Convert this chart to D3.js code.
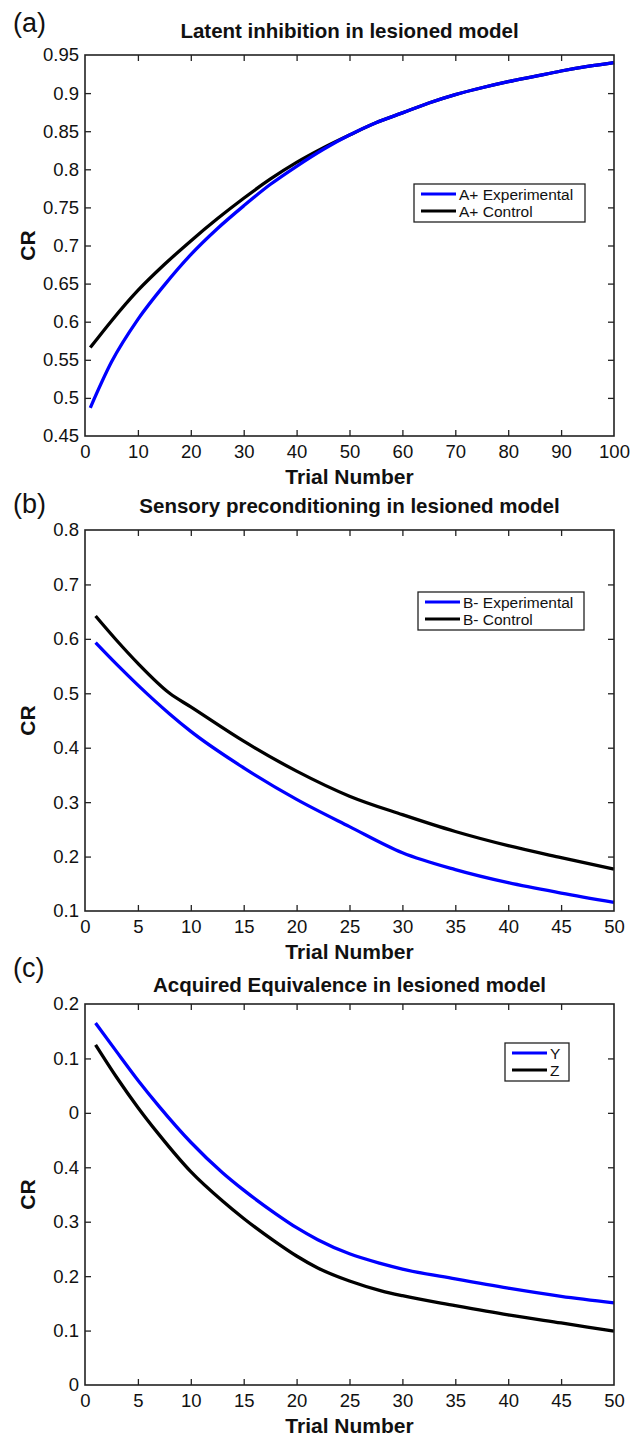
<!DOCTYPE html>
<html>
<head>
<meta charset="utf-8">
<script src="https://cdn.jsdelivr.net/npm/d3@7"></script>
<style>
  html, body { margin: 0; padding: 0; background: #fff; }
  svg { display: block; font-family: "Liberation Sans", Arial, Helvetica, sans-serif; }
</style>
</head>
<body>
<svg id="fig" width="643" height="1440"></svg>
<script>
// ---- Panel (a): latent inhibition ----
const trialsA = [1, 5, 10, 15, 20, 25, 30, 35, 40, 45, 50, 55, 60, 65, 70, 75, 80, 85, 90, 95, 100];
const aExperimental = [0.487, 0.547, 0.603, 0.648, 0.688, 0.722, 0.752, 0.780, 0.804, 0.826, 0.845, 0.861, 0.874, 0.887, 0.898, 0.907, 0.915, 0.922, 0.929, 0.935, 0.940];
const aControl      = [0.566, 0.601, 0.641, 0.675, 0.706, 0.735, 0.762, 0.787, 0.809, 0.828, 0.845, 0.861, 0.874, 0.887, 0.898, 0.907, 0.915, 0.922, 0.929, 0.935, 0.940];
const aXTicks = [0, 10, 20, 30, 40, 50, 60, 70, 80, 90, 100];
const aYTicks = [0.45, 0.5, 0.55, 0.6, 0.65, 0.7, 0.75, 0.8, 0.85, 0.9, 0.95];
const aYTickLabels = ["0.45", "0.5", "0.55", "0.6", "0.65", "0.7", "0.75", "0.8", "0.85", "0.9", "0.95"];

// ---- Panel (b): sensory preconditioning ----
const trialsB = [1, 3, 5, 8, 10, 15, 20, 25, 30, 35, 40, 45, 50];
const bExperimental = [0.593, 0.553, 0.515, 0.462, 0.430, 0.363, 0.305, 0.255, 0.207, 0.176, 0.152, 0.133, 0.116];
const bControl      = [0.642, 0.597, 0.555, 0.500, 0.475, 0.412, 0.357, 0.311, 0.277, 0.246, 0.220, 0.198, 0.177];
const bXTicks = [0, 5, 10, 15, 20, 25, 30, 35, 40, 45, 50];
const bYTicks = [0.1, 0.2, 0.3, 0.4, 0.5, 0.6, 0.7, 0.8];
const bYTickLabels = ["0.1", "0.2", "0.3", "0.4", "0.5", "0.6", "0.7", "0.8"];

// ---- Panel (c): acquired equivalence ----
const trialsC = [1, 3, 5, 7, 10, 13, 15, 18, 20, 22, 25, 28, 30, 35, 40, 45, 50];
const cY = [0.665, 0.612, 0.560, 0.512, 0.446, 0.390, 0.358, 0.315, 0.289, 0.267, 0.241, 0.223, 0.213, 0.195, 0.178, 0.163, 0.151];
const cZ = [0.625, 0.565, 0.510, 0.460, 0.392, 0.338, 0.306, 0.263, 0.237, 0.215, 0.191, 0.173, 0.164, 0.146, 0.129, 0.114, 0.099];
const cXTicks = [0, 5, 10, 15, 20, 25, 30, 35, 40, 45, 50];
const cYTicks = [0, 0.1, 0.2, 0.3, 0.4, 0.5, 0.6, 0.7];
const cYTickLabels = ["0", "0.1", "0.2", "0.3", "0.4", "0", "0.1", "0.2"];

const BLUE = "#0000ff";
const BLACK = "#000000";

const svg = d3.select("#fig");
const plotLeft = 85, plotWidth = 529, plotHeight = 381;

function drawPanel(opt) {
  const g = svg.append("g").attr("transform", `translate(${plotLeft},${opt.top})`);
  const x = d3.scaleLinear().domain(opt.xDomain).range([0, plotWidth]);
  const y = d3.scaleLinear().domain(opt.yDomain).range([plotHeight, 0]);

  // inward ticks on all four sides, labels on left and bottom
  const yLabel = new Map(opt.yTicks.map((t, i) => [t, opt.yTickLabels[i]]));
  const left = g.append("g").call(d3.axisLeft(y).tickValues(opt.yTicks)
    .tickFormat(d => yLabel.get(d)).tickSizeInner(-6).tickSizeOuter(0).tickPadding(6));
  const bottom = g.append("g").attr("transform", `translate(0,${plotHeight})`)
    .call(d3.axisBottom(x).tickValues(opt.xTicks).tickFormat(d3.format("d"))
      .tickSizeInner(-6).tickSizeOuter(0).tickPadding(9));
  const top = g.append("g").call(d3.axisTop(x).tickValues(opt.xTicks).tickFormat("")
    .tickSizeInner(-6).tickSizeOuter(0));
  const right = g.append("g").attr("transform", `translate(${plotWidth},0)`)
    .call(d3.axisRight(y).tickValues(opt.yTicks).tickFormat("")
      .tickSizeInner(-6).tickSizeOuter(0));
  [left, bottom, top, right].forEach(a => {
    a.select(".domain").remove();
    a.selectAll(".tick line").attr("stroke", "#222").attr("stroke-width", 1.3);
    a.selectAll(".tick text").attr("fill", "#111").style("font-size", "18.5px")
      .style("font-family", "'Liberation Sans', Arial, sans-serif");
  });
  // drop the end ticks that sit on the frame corners
  [top, bottom].forEach(a => a.selectAll(".tick line").filter(d => d === opt.xDomain[0] || d === opt.xDomain[1]).remove());
  [left, right].forEach(a => a.selectAll(".tick line").filter(d => d === opt.yDomain[0] || d === opt.yDomain[1]).remove());

  // data lines
  const line = d3.line().x(d => x(d[0])).y(d => y(d[1])).curve(d3.curveMonotoneX);
  opt.series.slice().reverse().forEach(s => {
    g.append("path")
      .datum(opt.trials.map((t, i) => [t, s.values[i]]))
      .attr("fill", "none").attr("stroke", s.color).attr("stroke-width", 3.3)
      .attr("stroke-linejoin", "round").attr("stroke-linecap", "butt")
      .attr("d", line);
  });

  // frame
  g.append("rect").attr("x", 0).attr("y", 0).attr("width", plotWidth).attr("height", plotHeight)
    .attr("fill", "none").attr("stroke", "#222").attr("stroke-width", 1.6);

  // title, panel letter, axis labels
  svg.append("text").attr("x", plotLeft + plotWidth / 2).attr("y", opt.top - opt.titleGap)
    .attr("text-anchor", "middle").style("font-weight", "bold").style("font-size", "20.5px")
    .attr("fill", "#111").text(opt.title);
  svg.append("text").attr("x", 13).attr("y", opt.top - opt.letterGap)
    .style("font-size", "27px").attr("fill", "#111").text(opt.letter);
  svg.append("text").attr("x", plotLeft + plotWidth / 2).attr("y", opt.top + plotHeight + 48)
    .attr("text-anchor", "middle").style("font-weight", "bold").style("font-size", "21px")
    .attr("fill", "#111").text("Trial Number");
  svg.append("text")
    .attr("transform", `translate(35,${opt.top + plotHeight / 2}) rotate(-90)`)
    .attr("text-anchor", "middle").style("font-weight", "bold").style("font-size", "21px")
    .attr("fill", "#111").text("CR");

  // legend
  const lg = opt.legend;
  const lgG = svg.append("g").attr("transform", `translate(${lg.x},${lg.y})`);
  lgG.append("rect").attr("width", lg.w).attr("height", lg.h)
    .attr("fill", "#fff").attr("stroke", "#222").attr("stroke-width", 1.3);
  opt.series.forEach((s, i) => {
    const yy = 10 + i * 17;
    lgG.append("line").attr("x1", 7).attr("x2", 42).attr("y1", yy).attr("y2", yy)
      .attr("stroke", s.color).attr("stroke-width", 3.2);
    lgG.append("text").attr("x", 45).attr("y", yy + 5.5)
      .style("font-size", "15.5px").attr("fill", "#111").text(s.name);
  });
}

drawPanel({
  top: 55, letter: "(a)", letterGap: 23, titleGap: 17,
  title: "Latent inhibition in lesioned model",
  xDomain: [0, 100], yDomain: [0.45, 0.95],
  xTicks: aXTicks, yTicks: aYTicks, yTickLabels: aYTickLabels,
  trials: trialsA,
  series: [
    { name: "A+ Experimental", color: BLUE, values: aExperimental },
    { name: "A+ Control", color: BLACK, values: aControl }
  ],
  legend: { x: 414, y: 184, w: 171, h: 38 }
});

drawPanel({
  top: 530, letter: "(b)", letterGap: 17, titleGap: 17,
  title: "Sensory preconditioning in lesioned model",
  xDomain: [0, 50], yDomain: [0.1, 0.8],
  xTicks: bXTicks, yTicks: bYTicks, yTickLabels: bYTickLabels,
  trials: trialsB,
  series: [
    { name: "B- Experimental", color: BLUE, values: bExperimental },
    { name: "B- Control", color: BLACK, values: bControl }
  ],
  legend: { x: 418, y: 592, w: 166, h: 38 }
});

drawPanel({
  top: 1004, letter: "(c)", letterGap: 27, titleGap: 12,
  title: "Acquired Equivalence in lesioned model",
  xDomain: [0, 50], yDomain: [0, 0.7],
  xTicks: cXTicks, yTicks: cYTicks, yTickLabels: cYTickLabels,
  trials: trialsC,
  series: [
    { name: "Y", color: BLUE, values: cY },
    { name: "Z", color: BLACK, values: cZ }
  ],
  legend: { x: 505, y: 1043, w: 64, h: 38 }
});
</script>
</body>
</html>
